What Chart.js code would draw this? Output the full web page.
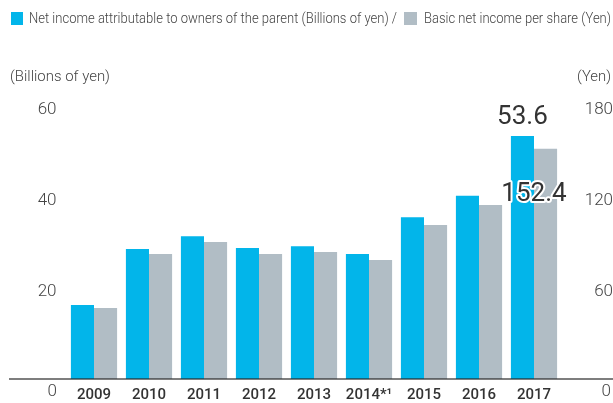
<!DOCTYPE html>
<html>
<head>
<meta charset="utf-8">
<script src="https://cdn.jsdelivr.net/npm/chart.js@4/dist/chart.umd.min.js"></script>
<style>
  html, body { margin: 0; padding: 0; background: #ffffff; }
  #wrap { width: 613px; height: 403px; position: relative; }
</style>
</head>
<body>
<div id="wrap"><canvas id="c" width="613" height="403"></canvas></div>
<script>
const categories = ['2009', '2010', '2011', '2012', '2013', '2014*¹', '2015', '2016', '2017'];
const netIncome = [16.3, 28.7, 31.5, 28.9, 29.3, 27.6, 35.7, 40.4, 53.6];
const perShare = [47.0, 82.7, 90.7, 82.7, 84.0, 78.8, 101.9, 115.2, 152.4];
const leftTicks = [0, 20, 40, 60];
const rightTicks = [0, 60, 120, 180];
const seriesNames = ['Net income attributable to owners of the parent (Billions of yen) /', 'Basic net income per share (Yen)'];
const axisTitles = ['(Billions of yen)', '(Yen)'];
const highlightLabels = ['53.6', '152.4'];

const BLUE = '#02B5EA';
const GREY = '#B1BDC5';
const FONT = 'Roboto, "Noto Sans", sans-serif';

const overlay = {
  id: 'overlay',
  afterDatasetsDraw(chart) {
    const ctx = chart.ctx;
    const y0 = chart.scales.y.getPixelForValue(0);
    ctx.save();
    ctx.strokeStyle = 'rgba(40,40,40,0.6)';
    ctx.lineWidth = 2;
    ctx.beginPath();
    ctx.moveTo(9, y0);
    ctx.lineTo(613, y0);
    ctx.stroke();
    ctx.restore();
  },
  afterDraw(chart) {
    const ctx = chart.ctx;
    const ys = chart.scales.y;
    const xs = chart.scales.x;
    ctx.save();
    // legend
    ctx.fillStyle = BLUE;
    ctx.fillRect(11, 12, 12, 13);
    ctx.fillStyle = '#444';
    ctx.font = '300 15px ' + FONT;
    ctx.textBaseline = 'middle';
    ctx.textAlign = 'left';
    ctx.fillText(seriesNames[0], 29, 19.5, 368);
    ctx.fillStyle = GREY;
    ctx.fillRect(404, 12, 13, 13);
    ctx.fillStyle = '#444';
    ctx.fillText(seriesNames[1], 424, 19.5, 187);
    // axis titles
    ctx.font = '300 15px ' + FONT;
    ctx.fillText(axisTitles[0], 10, 77, 100);
    ctx.textAlign = 'right';
    ctx.fillText(axisTitles[1], 611, 77, 34);
    // zero labels
    const y0 = ys.getPixelForValue(leftTicks[0]);
    ctx.font = '300 17px ' + FONT;
    ctx.fillText(String(leftTicks[0]), 57, y0 + 13);
    ctx.fillText(String(rightTicks[0]), 611, y0 + 13);
    // highlight values
    const last = categories.length - 1;
    const blueBar = chart.getDatasetMeta(0).data[last];
    ctx.textAlign = 'center';
    ctx.font = '400 26px ' + FONT;
    ctx.fillStyle = '#333';
    ctx.fillText(highlightLabels[0], blueBar.x, blueBar.y - 19);
    const cx = xs.getPixelForValue(last);
    const y1 = chart.scales.y1.getPixelForValue(perShare[last]);
    ctx.lineWidth = 4;
    ctx.strokeStyle = '#ffffff';
    ctx.lineJoin = 'round';
    ctx.strokeText(highlightLabels[1], cx, y1 + 46);
    ctx.fillText(highlightLabels[1], cx, y1 + 46);
    ctx.restore();
  }
};

new Chart(document.getElementById('c'), {
  type: 'bar',
  data: {
    labels: categories,
    datasets: [
      { label: seriesNames[0], data: netIncome, backgroundColor: BLUE, yAxisID: 'y', categoryPercentage: 0.84, barPercentage: 1.0 },
      { label: seriesNames[1], data: perShare, backgroundColor: GREY, yAxisID: 'y1', categoryPercentage: 0.84, barPercentage: 1.0 }
    ]
  },
  options: {
    responsive: false,
    animation: false,
    devicePixelRatio: 1,
    layout: { padding: { top: 107, left: 0, right: 0, bottom: 0 } },
    plugins: { legend: { display: false }, tooltip: { enabled: false } },
    scales: {
      x: {
        grid: { display: false, drawTicks: false },
        border: { display: false },
        ticks: { color: '#333', font: { family: FONT, size: 15, weight: '500' }, padding: 7, maxRotation: 0, autoSkip: false },
        afterFit(s) { s.height = 24; }
      },
      y: {
        position: 'left',
        min: 0, max: 60,
        afterBuildTicks(s) { s.ticks = leftTicks.map(v => ({ value: v })); },
        grid: { display: false, drawTicks: false },
        border: { display: false },
        ticks: { color: '#444', font: { family: FONT, size: 17, weight: '300' }, padding: 10, labelOffset: 3,
          callback: v => v === 0 ? '' : String(v) },
        afterFit(s) { s.width = 66.5; }
      },
      y1: {
        position: 'right',
        min: 0, max: 180,
        afterBuildTicks(s) { s.ticks = rightTicks.map(v => ({ value: v })); },
        grid: { display: false, drawTicks: false },
        border: { display: false },
        ticks: { color: '#444', font: { family: FONT, size: 17, weight: '300' }, padding: 0, crossAlign: 'far', labelOffset: 3,
          callback: v => v === 0 ? '' : String(v) },
        afterFit(s) { s.width = 51.5; }
      }
    }
  },
  plugins: [overlay]
});
</script>
</body>
</html>
